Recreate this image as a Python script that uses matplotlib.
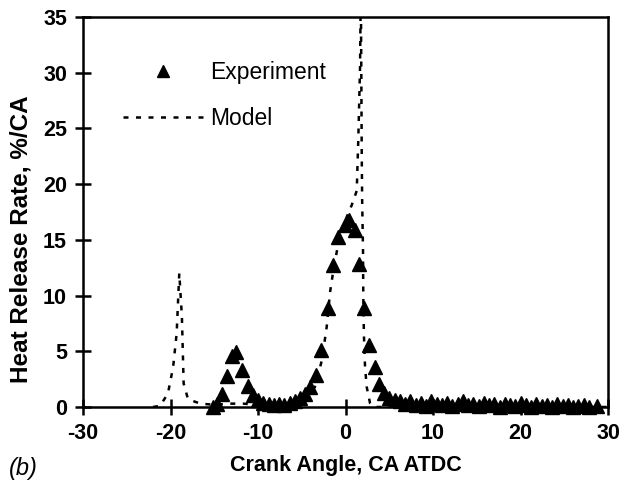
import matplotlib
matplotlib.use("Agg")
import matplotlib.pyplot as plt
from matplotlib.lines import Line2D

# Experiment (triangles)
exp_x = [-15.2, -14.7, -14.15, -13.6, -13.0, -12.5, -11.8, -11.2, -10.6, -10.0,
         -9.4, -8.8, -8.2, -7.6, -7.0, -6.4, -5.8, -5.2, -4.6, -4.05,
         -3.35, -2.75, -2.05, -1.4, -0.85, -0.1, 0.45, 1.1, 1.55, 2.15,
         2.7, 3.35, 3.8, 4.4, 5.0, 5.6, 6.2, 6.8, 7.4, 8.0,
         8.6, 9.2, 9.8, 10.4, 11.0, 11.6, 12.2, 12.8, 13.4, 14.0,
         14.6, 15.2, 15.8, 16.4, 17.0, 17.6, 18.2, 18.8, 19.4, 20.0,
         20.6, 21.2, 21.8, 22.4, 23.0, 23.6, 24.2, 24.8, 25.4, 26.0,
         26.6, 27.2, 27.8, 28.7]
exp_y = [0.0, 0.3, 1.2, 2.8, 4.6, 4.9, 3.3, 1.9, 1.1, 0.6,
         0.4, 0.3, 0.2, 0.3, 0.2, 0.4, 0.5, 0.8, 1.2, 1.8,
         2.9, 5.1, 8.9, 12.7, 15.3, 16.3, 16.8, 15.9, 12.8, 8.9,
         5.6, 3.6, 2.1, 1.3, 0.8, 0.6, 0.5, 0.3, 0.5, 0.2,
         0.4, 0.1, 0.5, 0.3, 0.2, 0.4, 0.1, 0.3, 0.5, 0.2,
         0.3, 0.1, 0.4, 0.2, 0.3, 0.0, 0.3, 0.2, 0.1, 0.4,
         0.2, 0.0, 0.3, 0.1, 0.2, 0.0, 0.3, 0.1, 0.2, 0.0,
         0.1, 0.2, 0.0, 0.1]

# Model (dotted line)
mod_x = [-22.0, -21.2, -20.3, -19.7, -19.3, -19.0, -18.7, -18.6, -18.5, -18.0,
         -16.6, -15.0, -13.2, -11.7, -10.0, -8.0, -6.0, -4.5, -3.5, -2.7,
         -2.15, -1.77, -1.4, -0.8, 0.0, 0.7, 1.28, 1.46, 1.66, 1.75,
         1.85, 1.9, 2.0, 2.03, 2.1, 2.23, 2.42, 2.8, 3.3, 30.0]
mod_y = [0.0, 0.1, 1.2, 3.6, 6.6, 12.0, 8.1, 5.1, 2.1, 0.7,
         0.3, 0.2, 0.3, 0.3, 0.2, 0.2, 0.3, 0.8, 1.8, 4.2,
         7.2, 10.3, 12.2, 14.8, 16.8, 18.1, 19.4, 24.0, 30.5, 38.0,
         23.0, 18.6, 14.0, 10.0, 6.5, 3.6, 1.8, 0.35, 0.0, 0.0]

x_ticks = [-30, -20, -10, 0, 10, 20, 30]
y_ticks = [0, 5, 10, 15, 20, 25, 30, 35]

bold = dict(family="Liberation Sans", weight="bold")

fig = plt.figure(figsize=(6.21, 4.87), dpi=100)
ax = fig.add_axes([0.1337, 0.1643, 0.8454, 0.8008])

ax.plot(mod_x, mod_y, color="black", lw=1.8, ls=(0, (2, 3)))
ax.plot(exp_x, exp_y, ls="none", marker="^", ms=10, color="black", clip_on=False)

ax.set_xlim(-30, 30)
ax.set_ylim(0, 35)
ax.set_xticks(x_ticks)
ax.set_yticks(y_ticks)
ax.set_xticklabels([str(t) for t in x_ticks], fontsize=15.5, **bold)
ax.set_yticklabels([str(t) for t in y_ticks], fontsize=15.5, **bold)
ax.tick_params(direction="inout", length=11, width=1.8, pad=6)
for s in ax.spines.values():
    s.set_linewidth(1.8)

ax.set_xlabel("Crank Angle, CA ATDC", fontsize=15.5, labelpad=8, **bold)
ax.set_ylabel("Heat Release Rate, %/CA", fontsize=17.5, **bold)
ax.yaxis.set_label_coords(-0.097, 0.43)

handles = [Line2D([], [], ls="none", marker="^", ms=8, color="black"),
           Line2D([], [], color="black", lw=1.8, ls=(0, (2, 3)))]
ax.legend(handles, ["Experiment", "Model"], loc="upper left",
          bbox_to_anchor=(0.076, 0.887), frameon=False, borderpad=0,
          borderaxespad=0, handlelength=3.5, handletextpad=0.3,
          labelspacing=1.02, prop=dict(family="Liberation Sans", size=16.5))

fig.text(0.015, 0.025, "(b)", fontsize=17, style="italic", family="Liberation Sans")

fig.savefig("out.png", dpi=100)
